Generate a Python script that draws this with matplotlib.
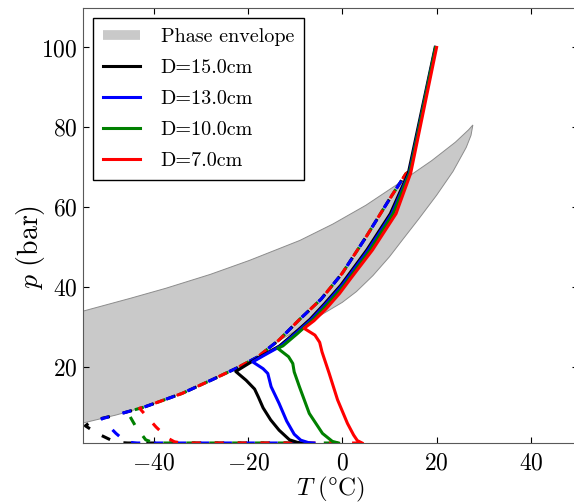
import numpy as np
import matplotlib
matplotlib.use('Agg')
import matplotlib.pyplot as plt
from matplotlib.lines import Line2D

plt.rcParams['font.family'] = 'cmr10'
plt.rcParams['mathtext.fontset'] = 'cm'
plt.rcParams['axes.formatter.use_mathtext'] = True

# phase envelope, upper and lower branch (T in degC, p in bar)
env_upper_T = [-60, -55, -45, -37.5, -28, -19.7, -9, -2, 5, 12, 19, 24, 26.8, 27.7]
env_upper_p = [32.5, 34, 37.2, 39.7, 43.2, 46.7, 51.7, 55.8, 60.5, 66, 71.7, 76.3, 79.4, 80.6]
env_lower_T = [-60, -55, -48, -42, -34, -27.5, -22.5, -18, -13.4, -8, -4, 0, 3, 6.5, 10, 13,
               16.3, 20, 23.5, 26.3, 27.3, 27.7]
env_lower_p = [4.6, 6, 8, 10, 13.4, 16.9, 19.7, 22.5, 26.6, 30.4, 33.4, 36.2, 38.9, 42.9, 47.6, 52.2,
               57.2, 63, 69, 75, 78, 80.6]

labels = ['D=15.0cm', 'D=13.0cm', 'D=10.0cm', 'D=7.0cm']
colors = ['k', 'b', 'g', 'r']

# solid curves
T_15 = [19.7, 14.0, 10.2, 5.2, -0.3, -3.8, -6.8, -10.3, -13.3, -16.8, -19.3, -22.6,
        -20.4, -18.6, -17.8, -16.8, -15.2, -13.4, -11.2, -9.5, -8.5]
p_15 = [100, 68.5, 58.4, 49.3, 40.5, 35.8, 32.0, 28.3, 25.3, 23.0, 21.3, 18.9,
        16.7, 14.5, 12.5, 9.8, 6.8, 4.2, 1.8, 1.15, 1.0]
T_13 = [19.8, 14.2, 10.5, 5.5, 0.0, -3.5, -6.5, -10.0, -13.0, -16.5, -19.0,
        -16.8, -15.8, -15.1, -13.4, -11.8, -10.2, -8.8, -7.2, -6.0]
p_13 = [100, 68.5, 58.4, 49.3, 40.5, 35.8, 32.0, 28.3, 25.3, 23.0, 21.3,
        19.6, 18.4, 15.1, 10.9, 6.5, 3.2, 1.7, 1.1, 1.0]
T_10 = [19.8, 14.3, 10.8, 5.9, 0.4, -3.1, -6.1, -9.6, -12.6, -13.7,
        -11.4, -10.5, -10.2, -9.1, -7.0, -4.2, -2.1, -0.8]
p_10 = [100, 68.5, 58.4, 49.3, 40.5, 35.8, 32.0, 28.3, 25.3, 24.7,
        22.6, 20.9, 18.8, 15.1, 8.4, 3.4, 1.4, 1.0]
T_7 = [20.0, 14.5, 11.4, 6.4, 2.0, -0.6, -3.5, -6.0, -8.1,
       -5.8, -4.8, -4.3, -2.8, -1.0, 1.1, 2.4, 3.2, 4.2]
p_7 = [100, 68.5, 58.4, 49.3, 42.5, 38.4, 34.5, 31.6, 29.7,
       28.0, 26.2, 23.8, 18.5, 11.8, 5.9, 3.0, 1.6, 1.0]

# dashed curves
Td_15 = [14.0, 13.5, 10, 5, 0, -4.5, -9, -13.4, -18, -22.5, -27.5, -34, -42, -48, -53,
         -54.5, -52, -49, -47, -45.5, -8.5]
pd_15 = [68.8, 68.4, 62, 52.5, 43.5, 37, 32, 26.8, 22.5, 19.7, 16.9, 13.4, 10, 8, 6.6,
         5.3, 3.4, 1.7, 1.1, 1.0, 1.0]
Td_13 = [14.0, 13.5, 10, 5, 0, -4.5, -9, -13.4, -18, -22.5, -27.5, -34, -42, -48, -51,
         -49.5, -48, -46.5, -45, -43.5, -6.0]
pd_13 = [68.8, 68.4, 62, 52.5, 43.5, 37, 32, 26.8, 22.5, 19.7, 16.9, 13.4, 10, 8, 7.1,
         5.2, 3.4, 1.9, 1.15, 1.0, 1.0]
Td_10 = [14.0, 13.5, 10, 5, 0, -4.5, -9, -13.4, -18, -22.5, -27.5, -34, -42, -45.6,
         -43.8, -41.7, -40, -38.5, -0.8]
pd_10 = [68.8, 68.4, 62, 52.5, 43.5, 37, 32, 26.8, 22.5, 19.7, 16.9, 13.4, 10, 8.8,
         5.1, 1.8, 1.05, 1.0, 1.0]
Td_7 = [14.0, 13.5, 10, 5, 0, -4.5, -9, -13.4, -18, -22.5, -27.5, -34, -42, -43,
        -39.5, -37, -35.6, -34, 4.2]
pd_7 = [68.8, 68.4, 62, 52.5, 43.5, 37, 32, 26.8, 22.5, 19.7, 16.9, 13.4, 10, 9.7,
        5.0, 2.2, 1.3, 1.0, 1.0]

solid = [(T_15, p_15), (T_13, p_13), (T_10, p_10), (T_7, p_7)]
dashed = [(Td_15, pd_15), (Td_13, pd_13), (Td_10, pd_10), (Td_7, pd_7)]
dash_offsets = [4.0, 3.75, 0.5, 0.0]

fig = plt.figure(figsize=(5.74, 5.04), dpi=100)
ax = fig.add_axes([83 / 574, 61 / 504, 495 / 574, 435.5 / 504])

env_T = np.concatenate([env_lower_T, env_upper_T[::-1]])
env_p = np.concatenate([env_lower_p, env_upper_p[::-1]])
ax.fill(env_T, env_p, facecolor='0.79', edgecolor='0.55', linewidth=0.7, zorder=1)

for (T, p), c, off in zip(dashed, colors, dash_offsets):
    ax.plot(T, p, color=c, lw=2.2, linestyle=(off, (3.0, 4.5)), zorder=2)

for (T, p), c in zip(solid, colors):
    ax.plot(T, p, color=c, lw=2.2, zorder=3)

handles = [Line2D([], [], color='0.79', lw=7, solid_capstyle='butt')]
handles += [Line2D([], [], color=c, lw=2.2) for c in colors]
leg = ax.legend(handles, ['Phase envelope'] + labels, loc='upper left', fontsize=14.5,
                fancybox=False, framealpha=1, edgecolor='k', handlelength=1.85,
                handletextpad=1.0, labelspacing=0.64, borderpad=0.5, borderaxespad=0.5)
leg.get_frame().set_linewidth(1.0)

ax.set_xlim(-55, 50)
ax.set_ylim(1, 110)
ax.set_xticks([-40, -20, 0, 20, 40])
ax.set_yticks([20, 40, 60, 80, 100])
ax.tick_params(direction='in', top=True, right=True, length=4, width=0.8, labelsize=17)
ax.tick_params(axis='x', pad=7)
ax.tick_params(axis='y', pad=4)
for s in ax.spines.values():
    s.set_color('0.35')

ax.set_xlabel(r'$T\ (\degree\mathrm{C})$', fontsize=18)
ax.xaxis.set_label_coords(0.5, -0.073)
ax.set_ylabel(r'$p\ (\mathrm{bar})$', fontsize=20)
ax.yaxis.set_label_coords(-0.072, 0.45)

fig.savefig('out.png', dpi=100)
